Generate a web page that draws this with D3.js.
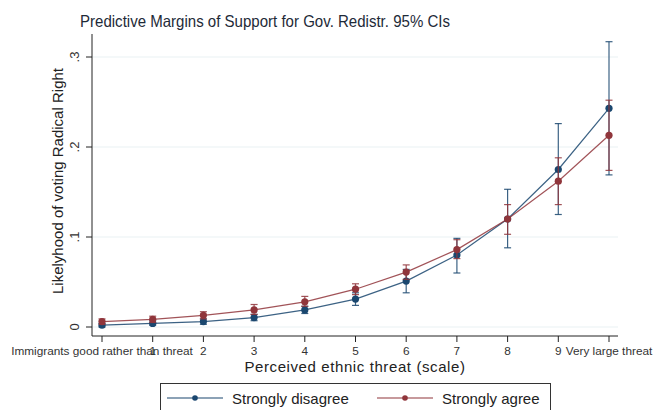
<!DOCTYPE html>
<html><head><meta charset="utf-8">
<script src="https://cdn.jsdelivr.net/npm/d3@7"></script>
<style>body{margin:0;background:#fff;}svg{display:block;font-family:Arial,"Liberation Sans",sans-serif;}</style>
</head><body>
<svg id="c" width="658" height="410"></svg>
<script>
const xTicks = [0,1,2,3,4,5,6,7,8,9,10];
const xTickLabels = ["Immigrants good rather than threat","1","2","3","4","5","6","7","8","9","Very large threat"];
const yTicks = [0,0.1,0.2,0.3];
const yTickLabels = ["0",".1",".2",".3"];
const seriesNames = ["Strongly disagree","Strongly agree"];
const disagreeMean = [0.002,0.004,0.006,0.0105,0.019,0.031,0.051,0.080,0.120,0.175,0.243];
const disagreeLo   = [0.000,0.002,0.003,0.007,0.015,0.024,0.038,0.060,0.088,0.125,0.169];
const disagreeHi   = [0.004,0.007,0.009,0.014,0.023,0.038,0.064,0.0985,0.153,0.226,0.317];
const agreeMean = [0.006,0.0085,0.013,0.019,0.028,0.042,0.061,0.086,0.120,0.162,0.213];
const agreeLo   = [0.003,0.005,0.009,0.014,0.023,0.036,0.053,0.076,0.103,0.136,0.174];
const agreeHi   = [0.009,0.012,0.017,0.025,0.034,0.048,0.069,0.097,0.136,0.188,0.252];

const colors = ["#1a476f","#90353b"];
const svg = d3.select("#c");
const x = d3.scaleLinear().domain([0,10]).range([102,609]);
const y = d3.scaleLinear().domain([0,0.3]).range([327,57]);
const xL = 92, xR = 618, yB = 336, yT = 34;

// gridlines
svg.append("g").selectAll("line").data(yTicks).join("line")
  .attr("x1",xL).attr("x2",xR).attr("y1",d=>y(d)).attr("y2",d=>y(d))
  .attr("stroke","#eaf2f3").attr("stroke-width",1.2);

// axes lines
svg.append("line").attr("x1",xL).attr("x2",xL).attr("y1",yT).attr("y2",yB).attr("stroke","#222");
svg.append("line").attr("x1",xL).attr("x2",xR).attr("y1",yB).attr("y2",yB).attr("stroke","#222");

// y ticks
const yg = svg.append("g");
yg.selectAll("line").data(yTicks).join("line")
  .attr("x1",86).attr("x2",xL).attr("y1",d=>y(d)).attr("y2",d=>y(d)).attr("stroke","#222");
yg.selectAll("text").data(yTicks).join("text")
  .attr("transform",d=>`translate(79,${y(d)}) rotate(-90)`)
  .attr("text-anchor","middle").attr("font-size",13).attr("fill","#333")
  .text((d,i)=>yTickLabels[i]);

// x ticks
const xg = svg.append("g");
xg.selectAll("line").data(xTicks).join("line")
  .attr("x1",d=>x(d)).attr("x2",d=>x(d)).attr("y1",yB).attr("y2",yB+6).attr("stroke","#222");
xg.selectAll("text").data(xTicks).join("text")
  .attr("x",d=>x(d)).attr("y",355).attr("text-anchor","middle")
  .attr("font-size",11.8).attr("fill","#333")
  .text((d,i)=>xTickLabels[i]);

// titles
svg.append("text").attr("x",80).attr("y",27).attr("font-size",16.5).attr("fill","#1e2a38")
  .attr("textLength",370).attr("lengthAdjust","spacingAndGlyphs")
  .text("Predictive Margins of Support for Gov. Redistr. 95% CIs");
svg.append("text").attr("x",355).attr("y",372).attr("text-anchor","middle").attr("font-size",15).attr("fill","#222")
  .attr("letter-spacing",0.6)
  .text("Perceived ethnic threat (scale)");
svg.append("text").attr("transform","translate(63,181) rotate(-90)").attr("text-anchor","middle")
  .attr("font-size",15).attr("fill","#222").text("Likelyhood of voting Radical Right");

// series
const series = [
  {mean:disagreeMean, lo:disagreeLo, hi:disagreeHi},
  {mean:agreeMean, lo:agreeLo, hi:agreeHi}
];
const line = d3.line().x((d,i)=>x(xTicks[i])).y(d=>y(d));
series.forEach((s,k)=>{
  const g = svg.append("g");
  const c = colors[k];
  g.selectAll("line.ci").data(xTicks).join("line").attr("class","ci")
    .attr("x1",d=>x(d)).attr("x2",d=>x(d)).attr("y1",(d,i)=>y(s.lo[i])).attr("y2",(d,i)=>y(s.hi[i]))
    .attr("stroke",c).attr("stroke-width",1.2).attr("stroke-opacity",0.85);
  ["lo","hi"].forEach(key=>{
    g.selectAll("line.cap"+key).data(xTicks).join("line").attr("class","cap"+key)
      .attr("x1",d=>x(d)-3.5).attr("x2",d=>x(d)+3.5).attr("y1",(d,i)=>y(s[key][i])).attr("y2",(d,i)=>y(s[key][i]))
      .attr("stroke",c).attr("stroke-width",1.2).attr("stroke-opacity",0.85);
  });
  g.append("path").datum(s.mean).attr("d",line).attr("fill","none")
    .attr("stroke",c).attr("stroke-width",1.2).attr("stroke-opacity",0.85);
  g.selectAll("circle").data(s.mean).join("circle")
    .attr("cx",(d,i)=>x(xTicks[i])).attr("cy",d=>y(d)).attr("r",3.6).attr("fill",c);
});

// legend
const lg = svg.append("g");
lg.append("rect").attr("x",160.5).attr("y",383.5).attr("width",390).attr("height",40)
  .attr("fill","#fff").attr("stroke","#333");
const legX = [[167,223,232],[377,433,442]];
seriesNames.forEach((n,k)=>{
  const [a,b,t] = legX[k];
  lg.append("line").attr("x1",a).attr("x2",b).attr("y1",398).attr("y2",398).attr("stroke",colors[k]).attr("stroke-width",1.2);
  lg.append("circle").attr("cx",(a+b)/2).attr("cy",398).attr("r",2.8).attr("fill",colors[k]);
  lg.append("text").attr("x",t).attr("y",404).attr("font-size",15).attr("fill","#222").text(n);
});
</script>
</body></html>
